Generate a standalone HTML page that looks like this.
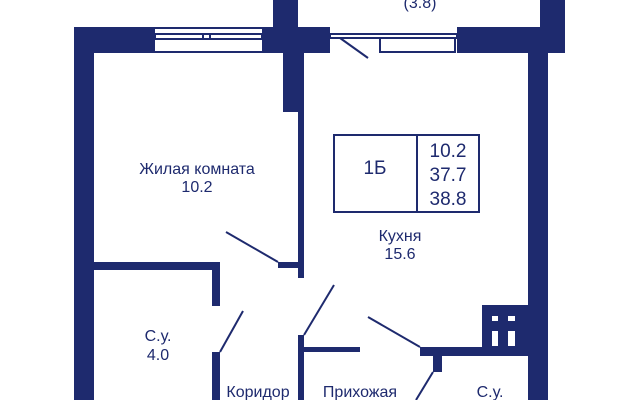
<!DOCTYPE html>
<html><head><style>
body{margin:0;width:640px;height:400px;background:#fff;overflow:hidden}
</style></head><body>
<svg width="640" height="400" viewBox="0 0 640 400" xmlns="http://www.w3.org/2000/svg">
<g fill="#1e2a6e">
<rect x="74" y="27" width="20" height="373"/>
<rect x="74" y="27" width="81" height="26"/>
<rect x="262" y="27" width="68" height="26"/>
<rect x="273" y="0" width="25" height="27"/>
<rect x="283" y="53" width="15" height="59"/>
<rect x="298" y="53" width="6" height="225"/>
<rect x="278" y="262" width="20" height="6"/>
<rect x="457" y="27" width="108" height="26"/>
<rect x="540" y="0" width="25" height="27"/>
<rect x="528" y="53" width="20" height="347"/>
<rect x="94" y="262" width="126" height="8"/>
<rect x="212" y="270" width="8" height="36"/>
<rect x="212" y="352" width="8" height="48"/>
<rect x="298" y="335" width="6" height="65"/>
<rect x="304" y="347" width="56" height="5"/>
<rect x="482" y="305" width="46" height="51"/>
<rect x="420" y="347" width="62" height="9"/>
<rect x="433" y="356" width="9" height="16"/>
</g>
<g fill="#fff">
<rect x="492" y="316" width="6" height="5"/><rect x="508" y="316" width="7" height="5"/>
<rect x="492" y="331" width="6" height="15"/><rect x="508" y="331" width="7" height="15"/>
</g>
<g stroke="#1e2a6e" fill="none" stroke-width="2">
<rect x="155" y="34" width="107" height="5"/><line x1="155" y1="52" x2="262" y2="52"/>
<line x1="155" y1="28" x2="262" y2="28"/>
<line x1="203" y1="34" x2="203" y2="39"/><line x1="210" y1="34" x2="210" y2="39"/>
<rect x="330" y="34" width="127" height="4"/>
<rect x="380" y="38" width="75" height="14"/>
<line x1="340" y1="38" x2="368" y2="58"/>
<line x1="226" y1="232" x2="278" y2="262"/>
<line x1="220" y1="352" x2="243" y2="311"/>
<line x1="304" y1="335" x2="334" y2="285"/>
<line x1="368" y1="317" x2="420" y2="347"/>
<line x1="433" y1="372" x2="416" y2="400"/>
<rect x="334" y="135" width="145" height="77"/>
<line x1="417" y1="135" x2="417" y2="212"/>
</g>
<g fill="#1e2a6e" font-family="Liberation Sans, sans-serif" font-size="16" text-anchor="middle">
<text x="420" y="8">(3.8)</text>
<text x="197" y="174">Жилая комната</text>
<text x="197" y="192">10.2</text>
<text x="375" y="174" font-size="19">1Б</text>
<text x="448" y="157" font-size="19">10.2</text>
<text x="448" y="181" font-size="19">37.7</text>
<text x="448" y="205" font-size="19">38.8</text>
<text x="400" y="241">Кухня</text>
<text x="400" y="259">15.6</text>
<text x="158" y="341">С.у.</text>
<text x="158" y="360">4.0</text>
<text x="258" y="397">Коридор</text>
<text x="360" y="397">Прихожая</text>
<text x="490" y="397">С.у.</text>
</g>
</svg>
</body></html>
